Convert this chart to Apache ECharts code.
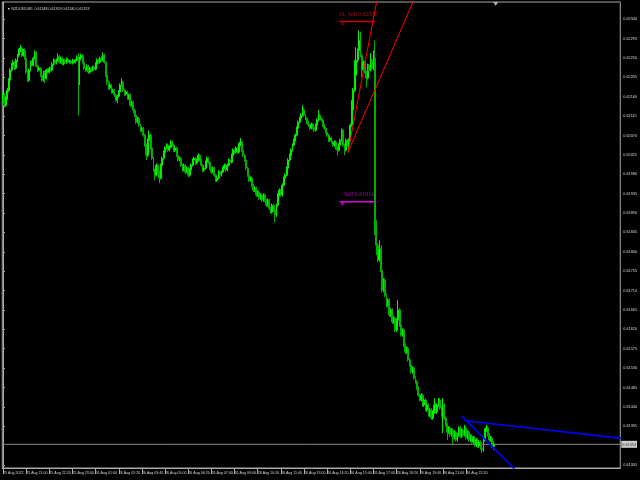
<!DOCTYPE html>
<html><head><meta charset="utf-8">
<script src="https://cdn.jsdelivr.net/npm/echarts@6/dist/echarts.min.js"></script>
<style>html,body{margin:0;padding:0;background:#000;}#c{width:640px;height:480px;}</style>
</head><body><div id="c"></div>
<script>
// ---- data (prices stored as points above 0.60000, 1 point = 0.00001) ----
const symbolName = 'NZDUSD,M5';
const headerValues = ['0.61348', '0.61359', '0.61340', '0.61353'];
const tickLabels = ['25 Aug 2022','25 Aug 21:00','25 Aug 22:20','25 Aug 23:40','26 Aug 01:00','26 Aug 02:20','26 Aug 03:40','26 Aug 05:00','26 Aug 06:20','26 Aug 07:40','26 Aug 09:00','26 Aug 10:20','26 Aug 11:40','26 Aug 13:00','26 Aug 14:20','26 Aug 15:40','26 Aug 17:00','26 Aug 18:20','26 Aug 19:40','26 Aug 21:00','26 Aug 22:20','26 Aug 23:40'];
const barsPerTick = 16;
const totalSlots = 427;
const priceTicks = [0.61305,0.61395,0.61440,0.61485,0.61530,0.61575,0.61620,0.61665,0.61710,0.61755,0.61800,0.61845,0.61890,0.61935,0.61980,0.62025,0.62070,0.62115,0.62160,0.62205,0.62250,0.62295,0.62340];
const currentPrice = 0.61353;
const slPrice = 0.62335;
const sellPrice = 0.61916;

const opens = [
2152,2164,2140,2157,2175,2198,2222,2233,2240,2226,
2245,2256,2268,2273,2256,2268,2249,2217,2198,2222,
2240,2233,2249,2263,2231,2222,2226,2210,2198,2217,
2203,2222,2217,2226,2222,2236,2245,2238,2245,2254,
2240,2250,2236,2245,2240,2247,2240,2243,2238,2245,
2240,2245,2252,2245,2250,2256,2240,2226,2222,2231,
2217,2226,2222,2229,2224,2236,2245,2240,2250,2245,
2256,2240,2210,2194,2180,2187,2171,2175,2164,2152,
2161,2171,2187,2194,2175,2166,2171,2157,2164,2140,
2147,2129,2117,2101,2110,2094,2082,2087,2071,2048,
2024,2059,2071,2041,2017,1990,1978,2001,1985,1971,
2001,2017,2031,2041,2048,2036,2043,2055,2048,2036,
2041,2024,2013,2017,2001,1990,2001,1985,1994,1978,
1990,2001,2013,2017,2006,2013,2024,2013,2001,1990,
1994,2008,2017,2008,1994,1985,1994,1978,1966,1971,
1985,1978,1985,1994,2001,1990,2001,2013,2008,2024,
2036,2031,2041,2031,2048,2055,2036,2024,2013,1994,
1978,1966,1971,1955,1943,1948,1932,1939,1925,1932,
1920,1932,1920,1908,1920,1901,1892,1908,1897,1885,
1908,1932,1943,1932,1955,1971,1978,1994,2013,2024,
2036,2048,2059,2071,2087,2101,2110,2117,2129,2117,
2110,2101,2094,2087,2096,2089,2082,2094,2106,2117,
2110,2106,2094,2087,2078,2071,2059,2064,2055,2048,
2055,2041,2036,2048,2059,2082,2048,2036,2059,2048,
2059,2094,2129,2175,2210,2245,2268,2291,2256,2222,
2240,2217,2203,2233,2222,2245,2226,2250,1850,1815,
1781,1804,1757,1711,1734,1699,1676,1688,1653,1665,
1637,1646,1618,1641,1665,1630,1607,1618,1583,1567,
1576,1549,1537,1521,1530,1507,1498,1484,1467,1456,
1467,1444,1456,1433,1444,1421,1433,1414,1428,1444,
1428,1444,1456,1437,1421,1444,1414,1398,1381,1391,
1375,1386,1368,1381,1363,1375,1391,1372,1386,1375,
1391,1368,1381,1363,1372,1358,1368,1351,1363,1349,
1358,1344,1340,1363,1386,1391,1375,1363,1368,1348];
const closes = [
2164,2140,2157,2175,2198,2222,2233,2240,2226,2245,
2256,2268,2273,2256,2268,2249,2217,2198,2222,2240,
2233,2249,2263,2231,2222,2226,2210,2198,2217,2203,
2222,2217,2226,2222,2236,2245,2238,2245,2254,2240,
2250,2236,2245,2240,2247,2240,2243,2238,2245,2240,
2245,2252,2245,2250,2256,2240,2226,2222,2231,2217,
2226,2222,2229,2224,2236,2245,2240,2250,2245,2256,
2240,2210,2194,2180,2187,2171,2175,2164,2152,2161,
2171,2187,2194,2175,2166,2171,2157,2164,2140,2147,
2129,2117,2101,2110,2094,2082,2087,2071,2048,2024,
2059,2071,2041,2017,1990,1978,2001,1985,1971,2001,
2017,2031,2041,2048,2036,2043,2055,2048,2036,2041,
2024,2013,2017,2001,1990,2001,1985,1994,1978,1990,
2001,2013,2017,2006,2013,2024,2013,2001,1990,1994,
2008,2017,2008,1994,1985,1994,1978,1966,1971,1985,
1978,1985,1994,2001,1990,2001,2013,2008,2024,2036,
2031,2041,2031,2048,2055,2036,2024,2013,1994,1978,
1966,1971,1955,1943,1948,1932,1939,1925,1932,1920,
1932,1920,1908,1920,1901,1892,1908,1897,1885,1908,
1932,1943,1932,1955,1971,1978,1994,2013,2024,2036,
2048,2059,2071,2087,2101,2110,2117,2129,2117,2110,
2101,2094,2087,2096,2089,2082,2094,2106,2117,2110,
2106,2094,2087,2078,2071,2059,2064,2055,2048,2055,
2041,2036,2048,2059,2082,2048,2036,2059,2048,2059,
2094,2129,2175,2210,2245,2268,2291,2256,2222,2240,
2217,2203,2233,2222,2245,2226,2250,1850,1815,1781,
1804,1757,1711,1734,1699,1676,1688,1653,1665,1637,
1646,1618,1641,1665,1630,1607,1618,1583,1567,1576,
1549,1537,1521,1530,1507,1498,1484,1467,1456,1467,
1444,1456,1433,1444,1421,1433,1414,1428,1444,1428,
1444,1456,1437,1421,1444,1414,1398,1381,1391,1375,
1386,1368,1381,1363,1375,1391,1372,1386,1375,1391,
1368,1381,1363,1372,1358,1368,1351,1363,1349,1358,
1344,1340,1363,1386,1391,1375,1363,1368,1349,1353];
const highs = [
2170,2168,2161,2180,2203,2226,2238,2245,2243,2249,
2260,2272,2280,2276,2271,2272,2252,2220,2225,2244,
2243,2253,2268,2266,2234,2230,2229,2213,2220,2220,
2225,2226,2230,2229,2240,2249,2248,2249,2261,2257,
2253,2253,2248,2248,2251,2250,2246,2246,2248,2248,
2248,2256,2261,2253,2260,2259,2243,2229,2235,2234,
2230,2229,2232,2232,2240,2249,2248,2253,2254,2263,
2259,2243,2213,2197,2191,2190,2179,2178,2167,2165,
2175,2191,2203,2197,2178,2174,2174,2167,2167,2151,
2150,2132,2120,2114,2113,2097,2091,2090,2074,2051,
2063,2082,2074,2044,2020,1993,2005,2004,1988,2005,
2021,2035,2045,2052,2051,2047,2059,2058,2051,2044,
2044,2027,2021,2020,2004,2005,2004,1998,1997,1994,
2005,2017,2021,2020,2017,2028,2027,2016,2004,1998,
2012,2021,2020,2011,1997,1998,1997,1981,1975,1989,
1988,1989,1998,2005,2004,2005,2017,2016,2028,2040,
2039,2045,2044,2052,2064,2058,2039,2027,2016,1997,
1981,1975,1974,1958,1952,1951,1943,1942,1936,1935,
1936,1935,1923,1924,1923,1904,1912,1911,1900,1912,
1936,1947,1946,1959,1975,1982,1998,2017,2028,2040,
2052,2063,2075,2091,2105,2114,2122,2140,2133,2120,
2113,2104,2097,2100,2099,2092,2098,2110,2129,2120,
2113,2109,2097,2090,2081,2074,2068,2067,2058,2059,
2058,2044,2052,2063,2086,2085,2051,2063,2062,2063,
2098,2152,2180,2245,2275,2272,2314,2310,2260,2244,
2243,2220,2237,2236,2261,2248,2268,2291,1873,1820,
1827,1808,1815,1739,1738,1703,1692,1692,1669,1669,
1650,1650,1645,1688,1669,1634,1622,1622,1587,1580,
1580,1553,1541,1534,1534,1511,1502,1488,1471,1471,
1471,1460,1460,1448,1448,1437,1437,1432,1460,1448,
1448,1460,1460,1441,1460,1448,1418,1402,1395,1395,
1390,1390,1385,1385,1379,1395,1395,1390,1390,1398,
1395,1385,1385,1376,1376,1372,1372,1367,1367,1362,
1362,1348,1367,1390,1398,1395,1379,1372,1372,1359];
const lows = [
2146,2135,2136,2153,2171,2194,2218,2229,2222,2223,
2241,2252,2264,2252,2253,2246,2213,2194,2195,2219,
2230,2230,2246,2228,2218,2219,2206,2195,2195,2191,
2200,2214,2214,2218,2219,2233,2235,2235,2242,2237,
2237,2233,2233,2237,2237,2237,2237,2235,2235,2237,
2237,2242,2117,2187,2247,2237,2222,2218,2219,2213,
2214,2218,2219,2221,2221,2233,2237,2237,2242,2242,
2237,2206,2187,2176,2177,2167,2168,2160,2148,2145,
2158,2168,2184,2171,2162,2163,2153,2153,2136,2137,
2122,2113,2097,2098,2090,2078,2079,2067,2044,2013,
2020,2056,2037,2013,1986,1966,1975,1981,1959,1968,
1998,2014,2028,2038,2032,2033,2040,2044,2032,2032,
2020,2009,2010,1997,1986,1987,1981,1982,1973,1975,
1987,1998,2010,2002,2003,2010,2009,1997,1985,1986,
1991,2005,2004,1990,1981,1982,1974,1962,1962,1968,
1974,1975,1982,1991,1986,1987,1998,2005,2005,2021,
2027,2028,2027,2028,2045,2032,2020,2009,1990,1974,
1962,1962,1951,1939,1939,1928,1928,1921,1921,1916,
1916,1916,1904,1905,1897,1888,1889,1893,1869,1881,
1905,1929,1928,1929,1952,1968,1975,1991,2010,2021,
2033,2045,2056,2068,2084,2098,2107,2114,2113,2106,
2097,2090,2083,2084,2085,2078,2079,2091,2103,2106,
2102,2090,2083,2074,2067,2055,2055,2051,2044,2044,
2037,2024,2033,2045,2056,2044,2024,2033,2044,2031,
2056,2090,2125,2171,2206,2240,2264,2252,2205,2218,
2213,2182,2200,2218,2219,2222,2222,1839,1792,1776,
1777,1753,1706,1706,1695,1671,1672,1649,1649,1633,
1633,1614,1614,1637,1626,1603,1603,1579,1563,1563,
1545,1533,1517,1517,1503,1494,1480,1463,1452,1452,
1440,1440,1429,1429,1417,1417,1410,1410,1424,1424,
1424,1440,1433,1417,1379,1410,1394,1363,1377,1371,
1371,1351,1364,1359,1359,1371,1368,1368,1371,1371,
1364,1364,1359,1359,1354,1354,1347,1347,1345,1345,
1340,1333,1336,1359,1382,1371,1359,1359,1344,1340];

// trend objects: [bar index, points]
const redLine1 = [[238.4, 2032], [258.4, 2385]];
const redLine2 = [[238.4, 2032], [283.9, 2385]];
const blueLine1 = [[316.8, 1419], [356.6, 1285]];
const blueLine2 = [[320.9, 1407], [430, 1366]];
const orderStart = 232.5, orderEnd = 257.2, markerBar = 234.6;
const shiftMarkBar = 340.4;

// ---- build ----
const toPrice = v => 0.6 + v / 100000;
const categories = Array.from({length: totalSlots}, (_, i) => String(i));
const candles = opens.map((o, i) => [toPrice(o), toPrice(closes[i]), toPrice(lows[i]), toPrice(highs[i])]);
const seg = arr => arr.map(p => [p[0], toPrice(p[1])]);
const yMin = 0.61298, yMax = 0.62380;
const FONT = '"Liberation Sans",Arial,sans-serif';
const FS = 3.6;
const tickFn = idx => idx % barsPerTick === 0 && idx / barsPerTick < tickLabels.length;

const chart = echarts.init(document.getElementById('c'), null, {renderer: 'canvas'});
const lineSeries = (data, color, width, z) => ({
  type: 'line', xAxisIndex: 1, yAxisIndex: 0, data: data, symbol: 'none', clip: true,
  lineStyle: {color: color, width: width}, silent: true, z: z || 5
});
chart.setOption({
  animation: false,
  backgroundColor: '#000000',
  title: {
    text: '\u25BC ' + symbolName + '  ' + headerValues.join(' '),
    left: 2, top: 2,
    textStyle: {color: '#d8d8d8', fontSize: FS, fontWeight: 'normal', fontFamily: FONT}
  },
  grid: {left: -1, right: 18, top: 2, bottom: 12, show: true, borderColor: '#a8a8a8', borderWidth: 1, backgroundColor: '#000000'},
  xAxis: [{
    type: 'category', data: categories, boundaryGap: true,
    axisLine: {show: true, lineStyle: {color: '#a8a8a8', width: 1}},
    axisTick: {show: true, interval: tickFn, alignWithLabel: true, length: 6, lineStyle: {color: '#a8a8a8'}},
    axisLabel: {interval: tickFn, showMinLabel: true, showMaxLabel: false, hideOverlap: false,
      formatter: (v, idx) => tickLabels[Math.round(Number(v) / barsPerTick)],
      align: 'left', margin: 3, color: '#d8d8d8', fontSize: FS, fontFamily: FONT},
    splitLine: {show: false}
  }, {
    type: 'value', show: false, min: -0.5, max: totalSlots - 0.5
  }],
  yAxis: {
    type: 'value', position: 'right', min: yMin, max: yMax,
    axisLine: {show: true, lineStyle: {color: '#a8a8a8', width: 1}},
    axisTick: {show: true, length: 2, customValues: priceTicks, lineStyle: {color: '#a8a8a8'}},
    axisLabel: {customValues: priceTicks, formatter: v => v.toFixed(5), margin: 3, color: '#d8d8d8', fontSize: 3.8, fontFamily: FONT},
    splitLine: {show: false}
  },
  series: [
  lineSeries([[-0.5, currentPrice], [totalSlots - 0.5, currentPrice]], '#8a8a8a', 1, 2),
  {
    type: 'candlestick', xAxisIndex: 0, yAxisIndex: 0, data: candles, barWidth: 1.4,
    itemStyle: {color: '#00ff00', color0: '#008a00', borderColor: '#00f000', borderColor0: '#00b000', borderWidth: 1},
    z: 3
  },
  lineSeries(seg(redLine1), '#ff0000', 1),
  lineSeries(seg(redLine2), '#ff0000', 1),
  lineSeries(seg(blueLine1), '#0000ff', 1.6),
  lineSeries(seg(blueLine2), '#0000ff', 1.6),
  lineSeries([[orderStart, slPrice], [orderEnd, slPrice]], '#d00000', 1.5),
  lineSeries([[orderStart, sellPrice], [orderEnd, sellPrice]], '#dd00dd', 1.5),
  {
    type: 'scatter', xAxisIndex: 1, yAxisIndex: 0, silent: true, z: 6,
    symbol: 'path://M0,1L1,0L5,4L9,0L10,1L6,5L10,9L9,10L5,6L1,10L0,9L4,5Z', symbolSize: 4, symbolOffset: [0, 2.5],
    itemStyle: {color: '#e00000'}, data: [[markerBar, slPrice]]
  }, {
    type: 'scatter', xAxisIndex: 1, yAxisIndex: 0, silent: true, z: 6,
    symbol: 'triangle', symbolRotate: 180, symbolSize: [4, 4], symbolOffset: [0, 2.5],
    itemStyle: {color: '#dd00dd'}, data: [[markerBar, sellPrice]]
  }, {
    type: 'scatter', xAxisIndex: 1, yAxisIndex: 0, silent: true, z: 7, symbolSize: 1,
    itemStyle: {color: 'transparent'},
    data: [
      {value: [orderStart, slPrice], label: {show: true, formatter: 'SL Sell ' + slPrice.toFixed(5), color: '#e01010', position: [0, -9]}},
      {value: [orderStart, sellPrice], label: {show: true, formatter: 'Sell ' + sellPrice.toFixed(5), color: '#e000e0', position: [5, -10]}}
    ],
    label: {fontSize: 6, fontFamily: '"Liberation Serif","Times New Roman",serif'}
  }, {
    type: 'scatter', xAxisIndex: 1, yAxisIndex: 0, silent: true, z: 8,
    symbol: 'triangle', symbolRotate: 180, symbolSize: [5, 4], symbolOffset: [0, 2],
    itemStyle: {color: '#d0d0d0'}, data: [[shiftMarkBar, yMax]]
  }, {
    type: 'scatter', xAxisIndex: 1, yAxisIndex: 0, silent: true, z: 9, symbolSize: 1,
    itemStyle: {color: 'transparent'},
    data: [{value: [totalSlots - 0.5, currentPrice]}],
    label: {show: true, formatter: currentPrice.toFixed(5), position: [1.5, -3],
      backgroundColor: '#ffffff', color: '#000000', fontSize: 3.8, fontFamily: FONT, padding: [2, 1, 1, 1]}
  }]
});
</script></body></html>
